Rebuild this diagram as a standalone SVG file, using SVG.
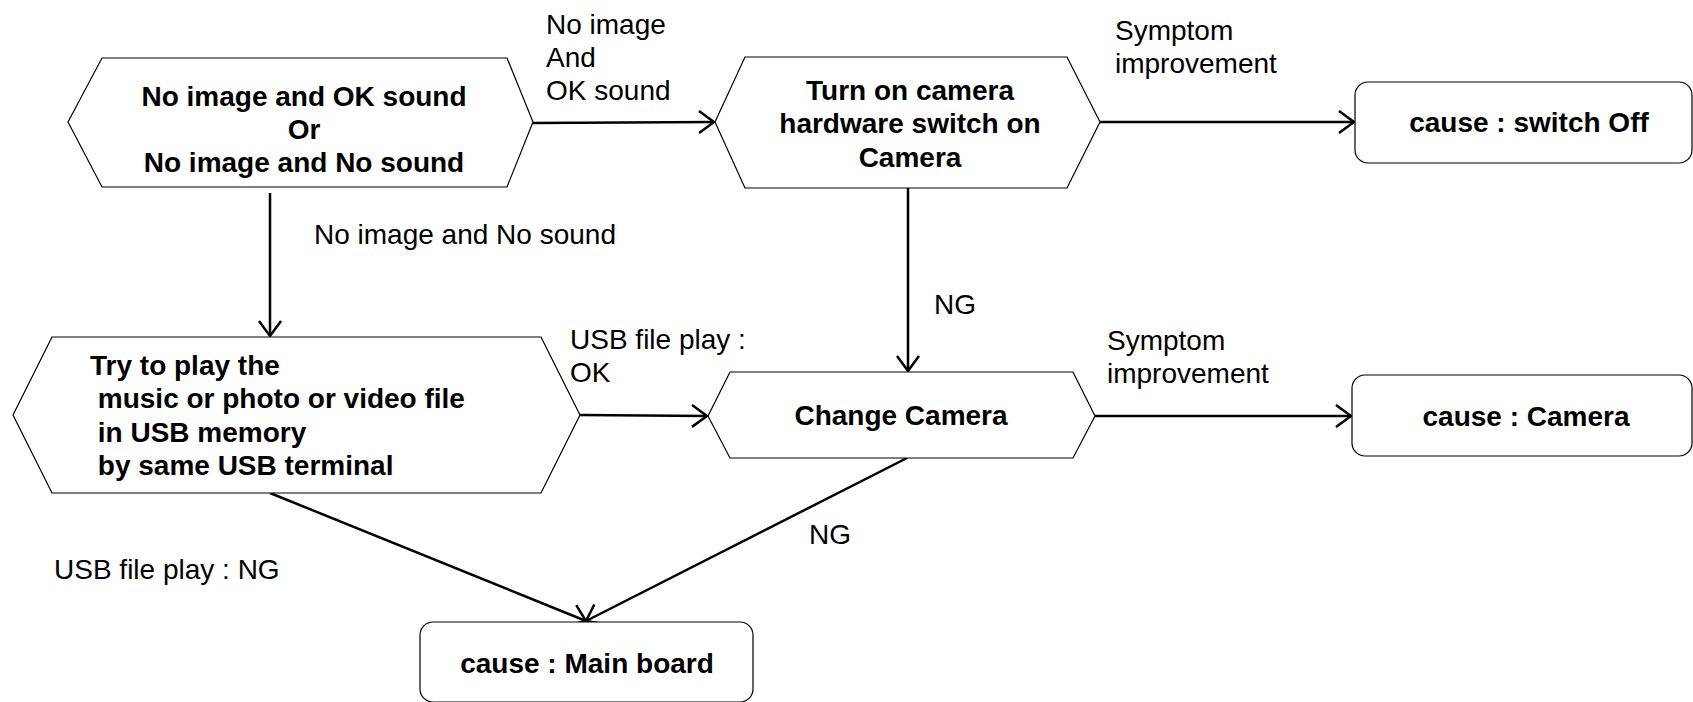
<svg xmlns="http://www.w3.org/2000/svg" width="1693" height="702" viewBox="0 0 1693 702">
<defs>
<marker id="arr" markerUnits="userSpaceOnUse" markerWidth="30" markerHeight="30" viewBox="-20 -15 24 30" refX="0" refY="0" orient="auto">
<path d="M-15,-11 L0,0 L-15,11" fill="none" stroke="#000" stroke-width="2.5"/>
</marker>
</defs>
<style>
.node{fill:#fff;stroke:#000;stroke-width:1.2}
.b{font-family:"Liberation Sans",Arial,sans-serif;font-weight:bold;font-size:28px;fill:#000}
.r{font-family:"Liberation Sans",Arial,sans-serif;font-size:28px;fill:#000}
.c{text-anchor:middle}
.edge{fill:none;stroke:#000;stroke-width:2.5;marker-end:url(#arr)}
</style>
<rect width="1693" height="702" fill="#fff"/>
<g id="connectors">
<line class="edge" x1="533" y1="123" x2="714" y2="122"/>
<line class="edge" x1="1100" y1="122" x2="1354" y2="122"/>
<line class="edge" x1="270" y1="193" x2="270" y2="336"/>
<line class="edge" x1="908" y1="188" x2="908" y2="371"/>
<line class="edge" x1="580" y1="415" x2="707" y2="416"/>
<line class="edge" x1="1095" y1="416" x2="1351" y2="416"/>
<line class="edge" x1="270" y1="493" x2="586" y2="621"/>
<line class="edge" x1="907" y1="458" x2="586" y2="621"/>
<text class="r" x="546" y="34">No image</text>
<text class="r" x="546" y="67">And</text>
<text class="r" x="546" y="100">OK sound</text>
<text class="r" x="1115" y="40">Symptom</text>
<text class="r" x="1115" y="73">improvement</text>
<text class="r" x="314" y="244">No image and No sound</text>
<text class="r" x="934" y="314">NG</text>
<text class="r" x="570" y="349">USB file play :</text>
<text class="r" x="570" y="382">OK</text>
<text class="r" x="1107" y="350">Symptom</text>
<text class="r" x="1107" y="383">improvement</text>
<text class="r" x="809" y="544">NG</text>
<text class="r" x="54" y="579">USB file play : NG</text>
</g>
<g id="n_start">
<polygon class="node" points="68,122 102,58 507,58 533,122 507,187 102,187"/>
<text class="b c" x="304" y="106">No image and OK sound</text>
<text class="b c" x="304" y="139">Or</text>
<text class="b c" x="304" y="172">No image and No sound</text>
</g>
<g id="n_switch">
<polygon class="node" points="715,122 745,57 1067,57 1100,122 1067,188 745,188"/>
<text class="b c" x="910" y="100">Turn on camera</text>
<text class="b c" x="910" y="133">hardware switch on</text>
<text class="b c" x="910" y="167">Camera</text>
</g>
<g id="n_off">
<rect class="node" x="1355" y="82" width="337" height="81" rx="13"/>
<text class="b c" x="1529" y="132">cause : switch Off</text>
</g>
<g id="n_usb">
<polygon class="node" points="13,415 52,337 541,337 580,415 541,493 52,493"/>
<text class="b" x="90" y="375" xml:space="preserve">Try to play the</text>
<text class="b" x="90" y="408" xml:space="preserve"> music or photo or video file</text>
<text class="b" x="90" y="442" xml:space="preserve"> in USB memory</text>
<text class="b" x="90" y="475" xml:space="preserve"> by same USB terminal</text>
</g>
<g id="n_change">
<polygon class="node" points="708,416 730,372 1073,372 1095,416 1073,458 730,458"/>
<text class="b c" x="901" y="425">Change Camera</text>
</g>
<g id="n_camera">
<rect class="node" x="1352" y="375" width="340" height="81" rx="13"/>
<text class="b c" x="1526" y="426">cause : Camera</text>
</g>
<g id="n_main">
<rect class="node" x="420" y="622" width="333" height="80" rx="13"/>
<text class="b c" x="587" y="673">cause : Main board</text>
</g>
</svg>
